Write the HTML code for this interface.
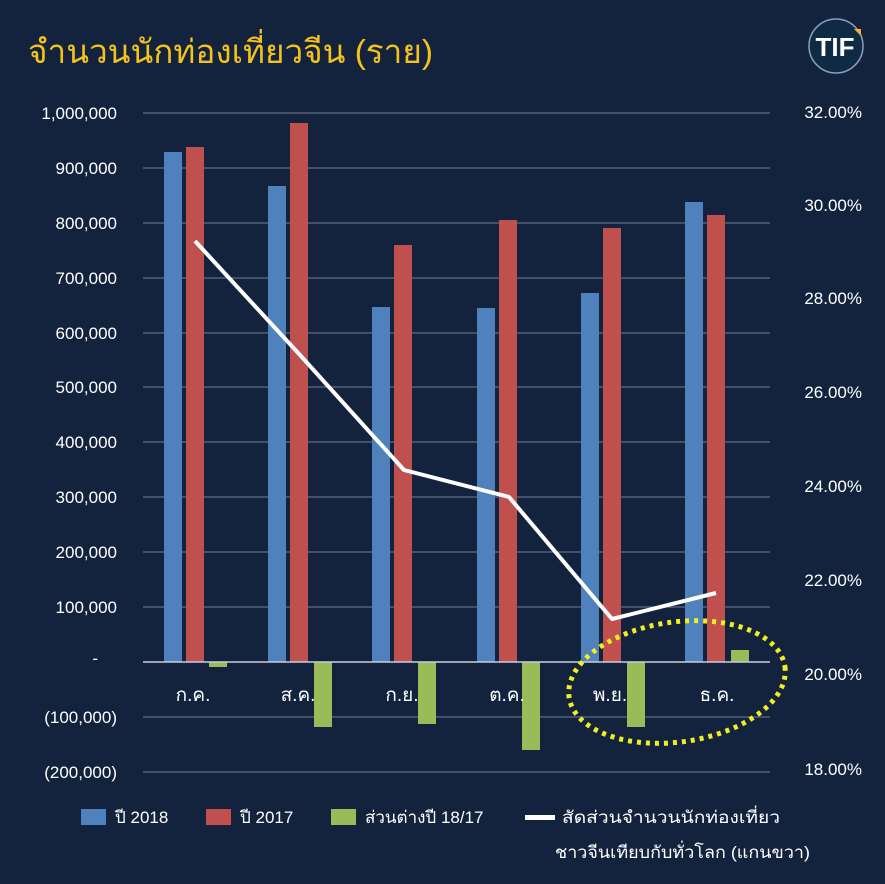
<!DOCTYPE html>
<html><head><meta charset="utf-8"><style>
html,body{margin:0;padding:0;background:#13233d;}
svg{display:block;font-family:"Liberation Sans","Noto Sans CJK SC",sans-serif;}
</style></head><body>
<svg width="885" height="884" viewBox="0 0 885 884" xmlns="http://www.w3.org/2000/svg">
<rect width="885" height="884" fill="#13233d"/>
<text x="28" y="63" font-size="33" fill="#f5c21a" textLength="405" lengthAdjust="spacingAndGlyphs">จำนวนนักท่องเที่ยวจีน (ราย)</text>
<circle cx="836" cy="46" r="27" fill="#0e2a45" stroke="#8aa0b8" stroke-width="1.5"/>
<text x="835" y="56" font-size="26" font-weight="bold" fill="#fff" text-anchor="middle">TIF</text>
<polygon points="854,29 861,29 861,36" fill="#f5b030"/>
<g stroke="#5d6d84" stroke-width="1.2">
<line x1="143" y1="113" x2="770" y2="113"/><line x1="143" y1="168" x2="770" y2="168"/>
<line x1="143" y1="223" x2="770" y2="223"/><line x1="143" y1="278" x2="770" y2="278"/>
<line x1="143" y1="333" x2="770" y2="333"/><line x1="143" y1="387" x2="770" y2="387"/>
<line x1="143" y1="442" x2="770" y2="442"/><line x1="143" y1="497" x2="770" y2="497"/>
<line x1="143" y1="552" x2="770" y2="552"/><line x1="143" y1="607" x2="770" y2="607"/>
<line x1="143" y1="717" x2="770" y2="717"/><line x1="143" y1="772" x2="770" y2="772"/>
</g>
<g font-size="17" fill="#fff" text-anchor="end">
<text x="117" y="119">1,000,000</text><text x="117" y="174">900,000</text>
<text x="117" y="229">800,000</text><text x="117" y="284">700,000</text>
<text x="117" y="339">600,000</text><text x="117" y="393">500,000</text>
<text x="117" y="448">400,000</text><text x="117" y="503">300,000</text>
<text x="117" y="558">200,000</text><text x="117" y="613">100,000</text>
<text x="98" y="664">-</text><text x="117" y="723">(100,000)</text><text x="117" y="778">(200,000)</text>
</g>
<g font-size="17" fill="#fff" text-anchor="end">
<text x="862" y="118">32.00%</text><text x="862" y="211">30.00%</text>
<text x="862" y="304">28.00%</text><text x="862" y="398">26.00%</text>
<text x="862" y="492">24.00%</text><text x="862" y="586">22.00%</text>
<text x="862" y="680">20.00%</text><text x="862" y="775">18.00%</text>
</g>
<g fill="#4f81bd">
<rect x="164" y="152" width="18" height="510"/><rect x="268" y="186" width="18" height="476"/>
<rect x="372" y="307" width="18" height="355"/><rect x="477" y="308" width="18" height="354"/>
<rect x="581" y="293" width="18" height="369"/><rect x="685" y="202" width="18" height="460"/>
</g>
<g fill="#c0504d">
<rect x="186" y="147" width="18" height="515"/><rect x="290" y="123" width="18" height="539"/>
<rect x="394" y="245" width="18" height="417"/><rect x="499" y="220" width="18" height="442"/>
<rect x="603" y="228" width="18" height="434"/><rect x="707" y="215" width="18" height="447"/>
</g>
<g fill="#9bbb59">
<rect x="209" y="662" width="18" height="5"/><rect x="314" y="662" width="18" height="65"/>
<rect x="418" y="662" width="18" height="62"/><rect x="522" y="662" width="18" height="88"/>
<rect x="627" y="662" width="18" height="65"/><rect x="731" y="650" width="18" height="12"/>
</g>
<line x1="143" y1="662" x2="770" y2="662" stroke="#c8d0da" stroke-width="1.5"/>
<g font-size="19" fill="#fff" text-anchor="middle">
<text x="193" y="701">ก.ค.</text><text x="298" y="701">ส.ค.</text><text x="402" y="701">ก.ย.</text>
<text x="507" y="701">ต.ค.</text><text x="610" y="701">พ.ย.</text><text x="717" y="701">ธ.ค.</text>
</g>
<polyline points="195,241 300,355 404,470 509,497 612,619 716,593" fill="none" stroke="#fff" stroke-width="4" stroke-linejoin="round"/>
<ellipse cx="677" cy="682" rx="109" ry="60" fill="none" stroke="#f0f020" stroke-width="5" stroke-dasharray="4 5" transform="rotate(-8 677 682)"/>
<rect x="81" y="809" width="25" height="16" fill="#4f81bd"/>
<text x="115" y="823" font-size="17" fill="#fff">ปี 2018</text>
<rect x="206" y="809" width="25" height="16" fill="#c0504d"/>
<text x="240" y="823" font-size="17" fill="#fff">ปี 2017</text>
<rect x="331" y="809" width="25" height="16" fill="#9bbb59"/>
<text x="365" y="823" font-size="17" fill="#fff">ส่วนต่างปี 18/17</text>
<rect x="525" y="815" width="30" height="5" fill="#fff"/>
<text x="562" y="823" font-size="17" fill="#fff" textLength="218" lengthAdjust="spacingAndGlyphs">สัดส่วนจำนวนนักท่องเที่ยว</text>
<text x="555" y="858" font-size="17" fill="#fff" textLength="255" lengthAdjust="spacingAndGlyphs">ชาวจีนเทียบกับทั่วโลก (แกนขวา)</text>
</svg>
</body></html>
